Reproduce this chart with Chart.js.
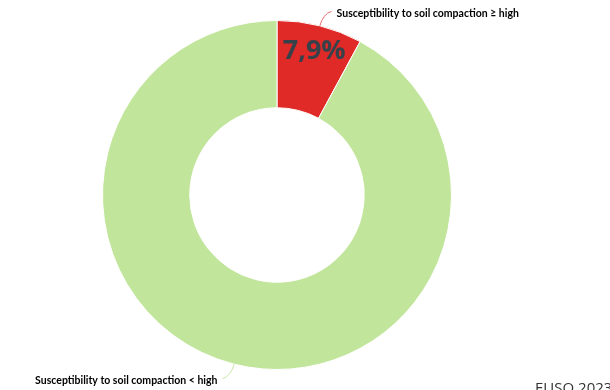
<!DOCTYPE html>
<html>
<head>
<meta charset="utf-8">
<title>Soil compaction susceptibility</title>
<script src="https://cdn.jsdelivr.net/npm/chart.js@4.4.1/dist/chart.umd.min.js"></script>
<style>
    html, body { margin: 0; padding: 0; background: #ffffff; overflow: hidden; }
    #wrap { position: relative; width: 610px; height: 390px; }
</style>
</head>
<body>
<div id="wrap"><canvas id="chart" width="610" height="390"></canvas></div>
<script>
'use strict';

// data
var categories = [
    'Susceptibility to soil compaction \u2265 high',
    'Susceptibility to soil compaction < high'
];
var shares = [7.9, 92.1];
var showShare = [true, false];
var sliceColors = ['#e02a27', '#c2e59c'];
var connectorColors = ['#e36d6b', '#c9e5a9'];
var creditText = 'EUSO 2023';

function formatShare(v) {
    return v.toFixed(1).replace('.', ',') + '%';
}

var sliceLabels = {
    id: 'sliceLabels',
    afterDatasetsDraw: function(chart) {
        var ctx = chart.ctx;
        var meta = chart.getDatasetMeta(0);
        ctx.save();
        meta.data.forEach(function(arc, i) {
            var p = arc.getProps(['x', 'y', 'startAngle', 'endAngle', 'outerRadius'], true);
            var mid = (p.startAngle + p.endAngle) / 2;
            var cos = Math.cos(mid), sin = Math.sin(mid);
            var right = cos >= 0;

            // connector from slice edge out to the label
            var x0 = p.x + cos * p.outerRadius;
            var y0 = p.y + sin * p.outerRadius;
            var d = p.outerRadius + 15;
            var x1 = p.x + cos * d + (right ? 8 : -8);
            var y1 = p.y + sin * d;
            var cx = p.x + cos * (p.outerRadius + 12);
            var cy = p.y + sin * (p.outerRadius + 12);
            ctx.strokeStyle = connectorColors[i];
            ctx.lineWidth = 1;
            ctx.beginPath();
            ctx.moveTo(x0, y0);
            ctx.quadraticCurveTo(cx, cy, x1, y1);
            ctx.stroke();

            ctx.font = 'bold 10.5px Lato, "Liberation Sans", sans-serif';
            ctx.fillStyle = '#000000';
            ctx.textBaseline = 'middle';
            ctx.textAlign = right ? 'left' : 'right';
            ctx.fillText(categories[i], x1 + (right ? 5 : -5), y1 + 2);

            if (showShare[i]) {
                var r = p.outerRadius - 23;
                ctx.font = 'bold 27px "Open Sans", Lato, sans-serif';
                ctx.fillStyle = '#36414a';
                ctx.textAlign = 'center';
                ctx.fillText(formatShare(shares[i]), p.x + cos * r, p.y + sin * r + 3);
            }
        });

        ctx.font = '15px "Open Sans", sans-serif';
        ctx.fillStyle = '#333333';
        ctx.textAlign = 'left';
        ctx.textBaseline = 'alphabetic';
        ctx.fillText(creditText, 535, 393);
        ctx.restore();
    }
};

var chart = new Chart(document.getElementById('chart').getContext('2d'), {
    type: 'doughnut',
    data: {
        labels: categories,
        datasets: [{
            data: shares,
            backgroundColor: sliceColors,
            borderColor: '#ffffff',
            borderWidth: 1,
            hoverOffset: 0
        }]
    },
    options: {
        responsive: false,
        animation: false,
        cutout: '50%',
        layout: { padding: { left: 102, right: 158, top: 20, bottom: 20 } },
        plugins: {
            legend: { display: false },
            tooltip: { enabled: false }
        }
    },
    plugins: [sliceLabels]
});
</script>
</body>
</html>
